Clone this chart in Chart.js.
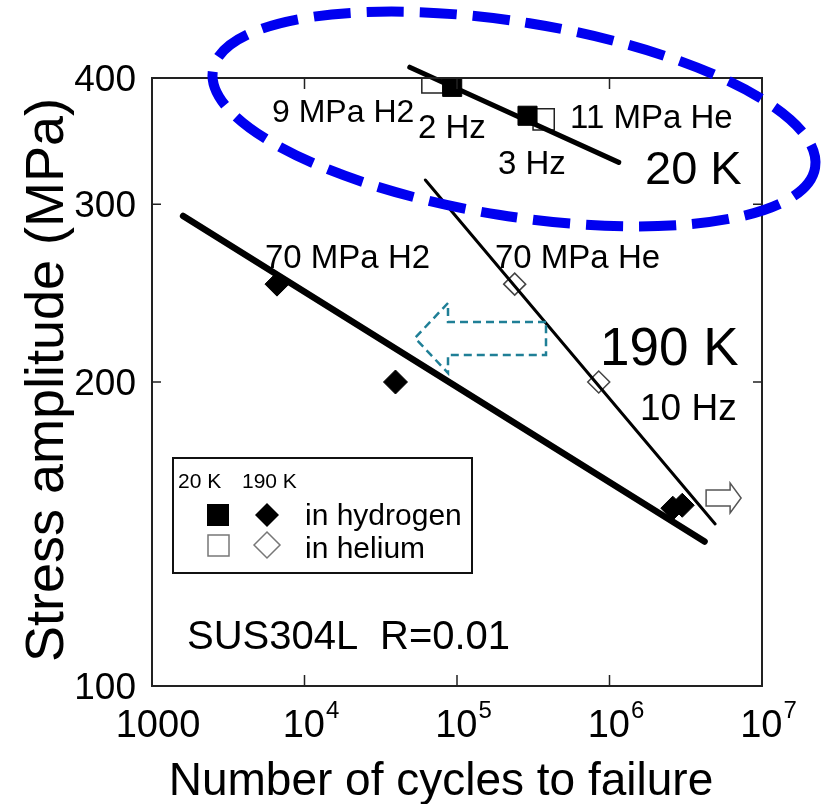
<!DOCTYPE html>
<html>
<head>
<meta charset="utf-8">
<script src="https://cdn.jsdelivr.net/npm/chart.js@4/dist/chart.umd.min.js"></script>
<style>
  html, body { margin: 0; padding: 0; background: #fff; }
</style>
</head>
<body>
<canvas id="snChart" width="833" height="804"></canvas>
<script>
// axes (log-log)
const xMin = 1000, xMax = 1e7;
const yMin = 100, yMax = 400;
const xTicks = [1000, 1e4, 1e5, 1e6, 1e7];
const xTickBase = ['1000', '10', '10', '10', '10'];
const xTickExp = ['', '4', '5', '6', '7'];
const yTicks = [100, 200, 300, 400];

// 20 K : 9 MPa H2 (2 Hz) / 11 MPa He (3 Hz)
const h2_20K_cycles = [9.3e4, 2.9e5];
const h2_20K_stress = [392, 367];
const he_20K_cycles = [6.9e4, 3.7e5];
const he_20K_stress = [396, 364];
const fit20K_cycles = [4.9e4, 1.15e6];
const fit20K_stress = [410, 330];

// 190 K : 70 MPa H2 / 70 MPa He (10 Hz)
const h2_190K_cycles = [6.6e3, 3.95e4, 2.6e6, 3.0e6];
const h2_190K_stress = [250, 200, 150, 151];
const he_190K_cycles = [2.39e5, 8.5e5];
const he_190K_stress = [250, 200];
const fitH2_190K_cycles = [1.6e3, 4.2e6];
const fitH2_190K_stress = [292, 139];
const fitHe_190K_cycles = [6.2e4, 4.93e6];
const fitHe_190K_stress = [317, 144.7];

// run-out arrow (data position of its tail)
const runout_cycles = [4.3e6];
const runout_stress = [153.5];

function pts(xs, ys) {
    return xs.map((x, i) => ({ x: x, y: ys[i] }));
}

const FONT = '"Liberation Sans", Arial, sans-serif';

function txt(ctx, s, x, y, size, align, base) {
    ctx.font = size + 'px ' + FONT;
    ctx.textAlign = align || 'left';
    ctx.textBaseline = base || 'alphabetic';
    ctx.fillStyle = '#000';
    ctx.fillText(s, x, y);
}

// cadre, graduations, textes et annotations
const decorPlugin = {
    id: 'decor',
    afterDraw(chart) {
        const ctx = chart.ctx;
        const a = chart.chartArea;
        const xs = chart.scales.x, ys = chart.scales.y;
        ctx.save();

        // cadre
        ctx.strokeStyle = '#222';
        ctx.lineWidth = 2;
        ctx.strokeRect(a.left, a.top, a.right - a.left, a.bottom - a.top);

        // graduations vers l'intérieur
        ctx.lineWidth = 1.5;
        ctx.beginPath();
        xTicks.forEach(v => {
            const px = xs.getPixelForValue(v);
            ctx.moveTo(px, a.bottom); ctx.lineTo(px, a.bottom - 11);
            ctx.moveTo(px, a.top); ctx.lineTo(px, a.top + 11);
        });
        yTicks.forEach(v => {
            const py = ys.getPixelForValue(v);
            ctx.moveTo(a.left, py); ctx.lineTo(a.left + 9, py);
            ctx.moveTo(a.right, py); ctx.lineTo(a.right - 9, py);
        });
        ctx.stroke();

        // étiquettes des axes
        yTicks.forEach(v => {
            txt(ctx, String(v), a.left - 16, ys.getPixelForValue(v) + 13, 37, 'right');
        });
        xTicks.forEach((v, i) => {
            const px = xs.getPixelForValue(v) + 6;
            ctx.font = '38px ' + FONT;
            const wb = ctx.measureText(xTickBase[i]).width;
            ctx.font = '24px ' + FONT;
            const we = xTickExp[i] ? ctx.measureText(xTickExp[i]).width : 0;
            const x0 = px - (wb + we) / 2;
            txt(ctx, xTickBase[i], x0, 737, 38);
            if (xTickExp[i]) txt(ctx, xTickExp[i], x0 + wb + 1, 718, 24);
        });

        // titres
        txt(ctx, 'Number of cycles to failure', 441, 795, 46, 'center');
        ctx.save();
        ctx.translate(63, 380);
        ctx.rotate(-Math.PI / 2);
        txt(ctx, 'Stress amplitude (MPa)', 0, 0, 54, 'center');
        ctx.restore();

        // annotations
        txt(ctx, '9 MPa H2', 272, 122, 32);
        txt(ctx, '2 Hz', 418, 138, 33);
        txt(ctx, '11 MPa He', 570, 128, 33);
        txt(ctx, '3 Hz', 498, 174, 33);
        txt(ctx, '20 K', 645, 184, 47);
        txt(ctx, '70 MPa H2', 265, 268, 33);
        txt(ctx, '70 MPa He', 495, 268, 33);
        txt(ctx, '190 K', 600, 365, 53);
        txt(ctx, '10 Hz', 640, 420, 37);
        txt(ctx, 'SUS304L', 187, 649, 40);
        txt(ctx, 'R=0.01', 380, 649, 40);

        // légende
        ctx.strokeStyle = '#111';
        ctx.lineWidth = 2;
        ctx.strokeRect(173, 458, 299, 115);
        txt(ctx, '20 K', 178, 488, 21);
        txt(ctx, '190 K', 242, 488, 21);
        ctx.fillStyle = '#000';
        ctx.fillRect(207, 504, 22, 22);
        ctx.beginPath();
        ctx.moveTo(255, 515); ctx.lineTo(267, 503); ctx.lineTo(279, 515); ctx.lineTo(267, 527);
        ctx.closePath(); ctx.fill();
        ctx.strokeStyle = '#777';
        ctx.lineWidth = 1.5;
        ctx.strokeRect(208, 535, 21, 21);
        ctx.beginPath();
        ctx.moveTo(254, 545); ctx.lineTo(267, 532); ctx.lineTo(280, 545); ctx.lineTo(267, 558);
        ctx.closePath(); ctx.stroke();
        txt(ctx, 'in hydrogen', 305, 525, 30);
        txt(ctx, 'in helium', 305, 558, 30);

        // flèche "run-out"
        const rx = xs.getPixelForValue(runout_cycles[0]);
        const ry = ys.getPixelForValue(runout_stress[0]);
        ctx.strokeStyle = '#555';
        ctx.lineWidth = 1.5;
        ctx.fillStyle = '#fff';
        ctx.beginPath();
        ctx.moveTo(rx, ry - 8); ctx.lineTo(rx + 24, ry - 8); ctx.lineTo(rx + 24, ry - 15);
        ctx.lineTo(rx + 35, ry); ctx.lineTo(rx + 24, ry + 15); ctx.lineTo(rx + 24, ry + 8);
        ctx.lineTo(rx, ry + 8); ctx.closePath();
        ctx.fill(); ctx.stroke();

        // flèche pointillée (décalage H2 / He)
        ctx.strokeStyle = '#1f7f96';
        ctx.lineWidth = 2.5;
        ctx.setLineDash([8, 5]);
        ctx.beginPath();
        ctx.moveTo(546, 322); ctx.lineTo(448, 322); ctx.lineTo(448, 303);
        ctx.lineTo(415, 338); ctx.lineTo(448, 373); ctx.lineTo(448, 355);
        ctx.lineTo(546, 355); ctx.closePath();
        ctx.stroke();

        // ellipse bleue autour des essais à 20 K
        ctx.strokeStyle = '#0000f0';
        ctx.lineWidth = 10;
        ctx.setLineDash([37, 16]);
        ctx.beginPath();
        ctx.ellipse(514, 119, 305, 97, 0.16, 0, Math.PI * 2);
        ctx.stroke();

        ctx.restore();
    }
};

const ctx = document.getElementById('snChart').getContext('2d');
const chart = new Chart(ctx, {
    type: 'scatter',
    data: {
        datasets: [
            {
                label: '20 K H2',
                data: pts(h2_20K_cycles, h2_20K_stress),
                pointStyle: 'rect', pointRadius: 13.5,
                backgroundColor: '#000', borderColor: '#000', borderWidth: 1
            },
            {
                label: '190 K H2',
                data: pts(h2_190K_cycles, h2_190K_stress),
                pointStyle: 'rectRot', pointRadius: 12,
                backgroundColor: '#000', borderColor: '#000', borderWidth: 1
            },
            {
                label: 'fit 20 K',
                data: pts(fit20K_cycles, fit20K_stress),
                showLine: true, pointRadius: 0, borderColor: '#000',
                borderWidth: 5, borderCapStyle: 'round', clip: false
            },
            {
                label: 'fit 190 K H2',
                data: pts(fitH2_190K_cycles, fitH2_190K_stress),
                showLine: true, pointRadius: 0, borderColor: '#000',
                borderWidth: 6.5, borderCapStyle: 'round'
            },
            {
                label: 'fit 190 K He',
                data: pts(fitHe_190K_cycles, fitHe_190K_stress),
                showLine: true, pointRadius: 0, borderColor: '#000',
                borderWidth: 3, borderCapStyle: 'round'
            },
            {
                label: '20 K He',
                data: pts(he_20K_cycles, he_20K_stress),
                pointStyle: 'rect', pointRadius: 15,
                backgroundColor: '#fff', borderColor: '#222', borderWidth: 1.5
            },
            {
                label: '190 K He',
                data: pts(he_190K_cycles, he_190K_stress),
                pointStyle: 'rectRot', pointRadius: 11,
                backgroundColor: '#fff', borderColor: '#444', borderWidth: 1.5
            }
        ]
    },
    options: {
        responsive: false,
        animation: false,
        devicePixelRatio: 1,
        layout: { padding: { left: 152, right: 71, top: 78, bottom: 118 } },
        scales: {
            x: { type: 'logarithmic', min: xMin, max: xMax, display: false },
            y: { type: 'logarithmic', min: yMin, max: yMax, display: false }
        },
        plugins: {
            legend: { display: false },
            tooltip: { enabled: false }
        }
    },
    plugins: [decorPlugin]
});
</script>
</body>
</html>
